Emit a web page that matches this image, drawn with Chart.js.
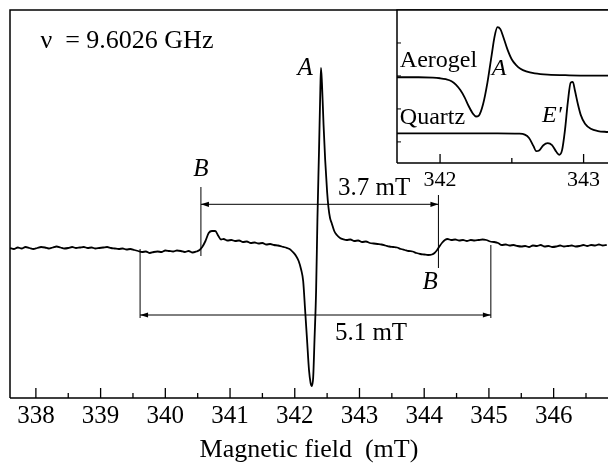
<!DOCTYPE html>
<html>
<head>
<meta charset="utf-8">
<script src="https://cdn.jsdelivr.net/npm/chart.js@4.4.0/dist/chart.umd.min.js"></script>
<style>
  body { margin: 0; background: #fff; }
  #wrap { position: relative; width: 608px; height: 466px; }
  #main { position: absolute; left: 0; top: 0; }
  #inset { position: absolute; left: 390px; top: 0; }
</style>
</head>
<body>
<div id="wrap">
  <canvas id="main" width="608" height="466"></canvas>
  <canvas id="inset" width="218" height="200"></canvas>
</div>
<script>
const SERIF = '"Liberation Serif", "Times New Roman", serif';

// EPR spectrum, magnetic field (mT) vs derivative signal (arb. units)
const field = [
  337.60, 337.66, 337.72, 337.78, 337.84, 337.90, 337.96, 338.02, 338.08, 338.14,
  338.20, 338.26, 338.32, 338.38, 338.44, 338.50, 338.56, 338.62, 338.68, 338.74,
  338.80, 338.86, 338.92, 338.98, 339.04, 339.10, 339.16, 339.22, 339.28, 339.34,
  339.40, 339.46, 339.52, 339.58, 339.64, 339.70, 339.76, 339.82, 339.88, 339.94,
  340.00, 340.06, 340.12, 340.18, 340.24, 340.30, 340.36, 340.42, 340.48, 340.53,
  340.57, 340.62, 340.67, 340.72, 340.77, 340.82, 340.86, 340.90, 340.96, 341.02,
  341.08, 341.14, 341.20, 341.26, 341.32, 341.38, 341.44, 341.50, 341.56, 341.62,
  341.68, 341.74, 341.80, 341.86, 341.92, 341.97, 342.02, 342.06, 342.10, 342.13,
  342.16, 342.19, 342.22, 342.245, 342.265, 342.285, 342.305, 342.33, 342.35, 342.375,
  342.395, 342.405, 342.42, 342.445, 342.47, 342.50, 342.52, 342.545, 342.57, 342.61,
  342.65, 342.70, 342.75, 342.80, 342.86, 342.92, 342.98, 343.04, 343.10, 343.16,
  343.22, 343.28, 343.34, 343.40, 343.46, 343.52, 343.58, 343.64, 343.70, 343.76,
  343.82, 343.88, 343.94, 344.00, 344.06, 344.12, 344.16, 344.20, 344.24, 344.28,
  344.32, 344.36, 344.42, 344.48, 344.54, 344.60, 344.66, 344.72, 344.78, 344.84,
  344.90, 344.96, 345.02, 345.08, 345.14, 345.20, 345.26, 345.32, 345.38, 345.44,
  345.50, 345.56, 345.62, 345.68, 345.74, 345.80, 345.86, 345.92, 345.98, 346.04,
  346.10, 346.16, 346.22, 346.28, 346.34, 346.40, 346.46, 346.52, 346.58, 346.64,
  346.70, 346.76, 346.82
];
const signal = [
  0, -1, 0.5, -0.5, 1, 0, -1, 0, 1, 0.5,
  -0.5, 0.5, 1.5, 0.5, -0.5, 0, 1, 0, 0.5, 1,
  0, 0.5, -0.5, 0, 0.5, 1, 0, -0.5, -1, -0.5,
  -1.5, -1, -2, -3, -4, -3.5, -5, -4, -3.5, -4,
  -2.5, -3, -3.5, -2.5, -3, -4, -3, -4.5, -3.5, -2,
  1, 7, 15, 17, 17, 12, 8.5, 9, 7.5, 8,
  7, 7.5, 6, 6.5, 5, 5.5, 4.5, 5, 3.5, 4,
  3, 2.5, 1.5, 0.5, -1, -4, -8, -13, -22, -33,
  -62, -92, -122, -135, -138, -129, -92, -42, 28, 98,
  158, 180, 165, 123, 88, 56, 41, 30, 25, 17,
  13, 10, 8.7, 8, 8.5, 7, 7.5, 6, 6.5, 5,
  4.5, 4, 3.5, 2.5, 1.5, 1, 0.5, -1, -2, -3,
  -3.5, -5, -6, -6.5, -7, -6.5, -5, -2, 2, 5.5,
  8, 9, 8, 8.5, 7.5, 8, 7, 8, 7.5, 8,
  8.5, 8, 6.5, 6, 5, 3, 3.5, 2.5, 3, 2,
  1.5, 2, 1, 2.5, 2, 3, 1.5, 2, 1, 1.5,
  2.5, 1.5, 2, 2.5, 1.5, 2, 3, 2, 3, 2.5,
  3.5, 2.5, 3
];

// inset: aerogel and quartz lines around 342-343 mT
const aerogelField = [
  341.70, 341.85, 341.95, 342.00, 342.04, 342.08, 342.11, 342.14, 342.17, 342.20,
  342.23, 342.25, 342.27, 342.30, 342.33, 342.36, 342.38, 342.40, 342.42, 342.44,
  342.47, 342.50, 342.53, 342.56, 342.60, 342.66, 342.75, 342.90, 343.17
];
const aerogelSignal = [
  1.96, 1.96, 1.95, 1.93, 1.90, 1.84, 1.74, 1.58, 1.36, 1.08,
  0.85, 0.77, 0.80, 1.15, 1.80, 2.65, 3.20, 3.48, 3.42, 3.19,
  2.80, 2.50, 2.33, 2.22, 2.14, 2.08, 2.04, 2.02, 2.01
];
const quartzField = [
  341.70, 342.40, 342.55, 342.59, 342.62, 342.65, 342.67, 342.69, 342.72, 342.75,
  342.78, 342.81, 342.83, 342.85, 342.87, 342.89, 342.91, 342.925, 342.94, 342.96,
  342.98, 343.01, 343.05, 343.10, 343.17
];
const quartzSignal = [
  0.26, 0.26, 0.25, 0.22, 0.12, -0.12, -0.28, -0.26, -0.10, -0.04,
  -0.10, -0.30, -0.39, -0.25, 0.35, 1.20, 1.80, 1.82, 1.55, 1.15,
  0.82, 0.55, 0.40, 0.33, 0.30
];

// separation markers (mT) and their vertical extent
const markerField  = [340.55, 344.22, 339.61, 345.03];
const markerTop    = [61, 53, -1, 3];
const markerBottom = [-8, -20, -70, -70];
// dimension arrows between markers
const spanFrom  = [340.55, 339.61];
const spanTo    = [344.22, 345.03];
const spanLevel = [43.7, -67];

// text in the main panel
const noteText   = ['\u03bd  = 9.6026 GHz', 'A', 'B', 'B', '3.7 mT', '5.1 mT'];
const noteField  = [338.07, 342.16, 340.55, 344.09, 342.67, 342.62];
const noteLevel  = [200, 173, 72, -41, 53, -92];
const noteSize   = [26, 25, 25, 25, 25, 25];
const noteItalic = [false, true, true, true, false, false];
const noteAlign  = ['left', 'center', 'center', 'center', 'left', 'left'];

// text in the inset
const insetText   = ['Aerogel', 'A', 'Quartz', "E'"];
const insetField  = [341.72, 342.36, 341.72, 342.71];
const insetLevel  = [2.27, 2.03, 0.545, 0.606];
const insetItalic = [false, true, false, true];

function xy(chart, fx, fy) {
  return [chart.scales.x.getPixelForValue(fx), chart.scales.y.getPixelForValue(fy)];
}

function seg(ctx, x1, y1, x2, y2) {
  ctx.beginPath();
  ctx.moveTo(x1, y1);
  ctx.lineTo(x2, y2);
  ctx.stroke();
}

function arrowHead(ctx, x, y, dir) {
  ctx.beginPath();
  ctx.moveTo(x, y);
  ctx.lineTo(x - dir * 8, y - 2.6);
  ctx.lineTo(x - dir * 8, y + 2.6);
  ctx.closePath();
  ctx.fill();
}

function drawFrame(chart, major, minor) {
  const { ctx, chartArea: a, scales: { x } } = chart;
  ctx.lineWidth = 1.5;
  ctx.beginPath();
  ctx.moveTo(a.left, a.bottom);
  ctx.lineTo(a.left, a.top);
  ctx.lineTo(a.right, a.top);
  ctx.moveTo(a.left, a.bottom);
  ctx.lineTo(a.right, a.bottom);
  ctx.stroke();
  ctx.lineWidth = 1.3;
  x.ticks.forEach(t => {
    const p = x.getPixelForValue(t.value);
    seg(ctx, p, a.bottom, p, a.bottom - major);
    const m = t.value + 0.5;
    if (m < x.max) {
      const q = x.getPixelForValue(m);
      seg(ctx, q, a.bottom, q, a.bottom - minor);
    }
  });
}

const mainDecor = {
  id: 'mainDecor',
  afterDraw(chart) {
    const ctx = chart.ctx;
    ctx.save();
    ctx.strokeStyle = '#000';
    ctx.fillStyle = '#000';
    drawFrame(chart, 10, 5);

    ctx.lineWidth = 1;
    markerField.forEach((f, i) => {
      const [x1, y1] = xy(chart, f, markerTop[i]);
      const [, y2] = xy(chart, f, markerBottom[i]);
      seg(ctx, x1, y1, x1, y2);
    });
    spanFrom.forEach((f, i) => {
      const [x1, y] = xy(chart, f, spanLevel[i]);
      const [x2] = xy(chart, spanTo[i], spanLevel[i]);
      seg(ctx, x1, y, x2, y);
      arrowHead(ctx, x1, y, -1);
      arrowHead(ctx, x2, y, 1);
    });

    ctx.textBaseline = 'alphabetic';
    noteText.forEach((t, i) => {
      const [x, y] = xy(chart, noteField[i], noteLevel[i]);
      ctx.font = (noteItalic[i] ? 'italic ' : '') + noteSize[i] + 'px ' + SERIF;
      ctx.textAlign = noteAlign[i];
      ctx.fillText(t, x, y);
    });
    ctx.restore();
  }
};

const insetDecor = {
  id: 'insetDecor',
  beforeDatasetsDraw(chart) {
    const { ctx, chartArea: a } = chart;
    ctx.save();
    ctx.fillStyle = '#fff';
    ctx.fillRect(a.left, a.top, a.right - a.left, a.bottom - a.top);
    ctx.restore();
  },
  afterDraw(chart) {
    const { ctx, chartArea: a, scales: { y } } = chart;
    ctx.save();
    ctx.strokeStyle = '#000';
    ctx.fillStyle = '#000';
    drawFrame(chart, 9, 5);
    ctx.lineWidth = 1;
    [0, 1, 2, 3].forEach(v => {
      const p = y.getPixelForValue(v);
      seg(ctx, a.left, p, a.left + 4, p);
    });
    ctx.textBaseline = 'alphabetic';
    ctx.textAlign = 'left';
    insetText.forEach((t, i) => {
      const [x, yy] = xy(chart, insetField[i], insetLevel[i]);
      ctx.font = (insetItalic[i] ? 'italic ' : '') + '24px ' + SERIF;
      ctx.fillText(t, x, yy);
    });
    ctx.restore();
  }
};

const toPoints = (xs, ys) => xs.map((x, i) => ({ x, y: ys[i] }));

new Chart(document.getElementById('main'), {
  type: 'line',
  data: {
    datasets: [{
      data: toPoints(field, signal),
      borderColor: '#000',
      borderWidth: 1.8,
      pointRadius: 0,
      cubicInterpolationMode: 'monotone'
    }]
  },
  options: {
    responsive: false,
    animation: false,
    devicePixelRatio: 1,
    layout: { padding: { left: 10, top: 10, right: 0, bottom: 0 } },
    plugins: { legend: { display: false }, tooltip: { enabled: false } },
    scales: {
      x: {
        type: 'linear',
        min: 337.6,
        max: 346.84,
        grid: { display: false, drawTicks: false },
        border: { display: false },
        ticks: {
          stepSize: 1, includeBounds: false, autoSkip: false, maxRotation: 0,
          color: '#000', padding: 3,
          font: { family: SERIF, size: 25 }
        },
        title: {
          display: true,
          text: 'Magnetic field  (mT)',
          color: '#000',
          font: { family: SERIF, size: 26 },
          padding: { top: 4, bottom: 0 }
        },
        afterFit(s) { s.height = 68; }
      },
      y: { display: false, min: -150, max: 238 }
    }
  },
  plugins: [mainDecor]
});

new Chart(document.getElementById('inset'), {
  type: 'line',
  data: {
    datasets: [
      { data: toPoints(aerogelField, aerogelSignal), borderColor: '#000', borderWidth: 1.8,
        pointRadius: 0, cubicInterpolationMode: 'monotone' },
      { data: toPoints(quartzField, quartzSignal), borderColor: '#000', borderWidth: 1.8,
        pointRadius: 0, cubicInterpolationMode: 'monotone' }
    ]
  },
  options: {
    responsive: false,
    animation: false,
    devicePixelRatio: 1,
    layout: { padding: { left: 7, top: 10, right: 0, bottom: 0 } },
    plugins: { legend: { display: false }, tooltip: { enabled: false } },
    scales: {
      x: {
        type: 'linear',
        min: 341.70,
        max: 343.17,
        grid: { display: false, drawTicks: false },
        border: { display: false },
        ticks: {
          stepSize: 1, includeBounds: false, autoSkip: false, maxRotation: 0,
          color: '#000', padding: 4,
          font: { family: SERIF, size: 22 }
        },
        afterFit(s) { s.height = 37; }
      },
      y: { display: false, min: -0.64, max: 4 }
    }
  },
  plugins: [insetDecor]
});
</script>
</body>
</html>
